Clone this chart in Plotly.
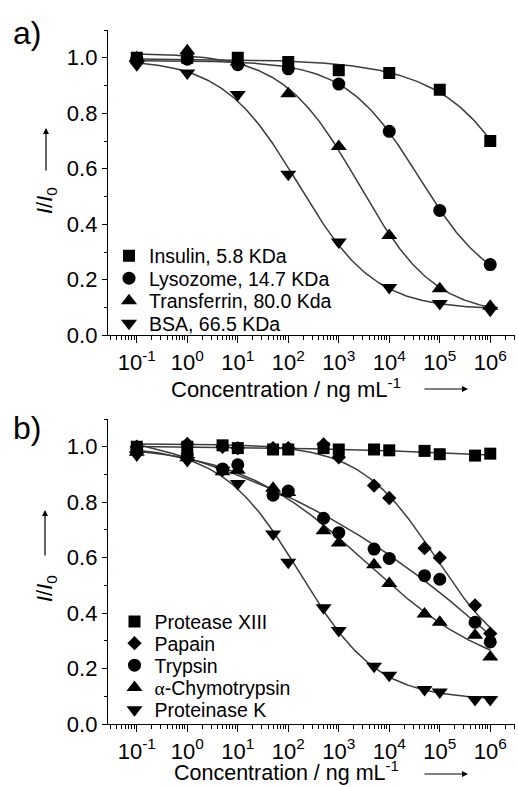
import numpy as np
import plotly.graph_objects as go

# ---------------- data ----------------
conc_a = [0.1, 1, 10, 100, 1000, 1e4, 1e5, 1e6]
insulin = [1.00, 1.00, 1.00, 0.985, 0.955, 0.945, 0.885, 0.70]
lysozome = [0.995, 0.995, 0.975, 0.96, 0.905, 0.735, 0.45, 0.255]
transferrin = [1.00, 1.025, 0.985, 0.87, 0.68, 0.36, 0.168, 0.105]
bsa = [0.975, 0.945, 0.868, 0.58, 0.336, 0.172, 0.115, 0.09]

conc_b = [0.1, 1, 5, 10, 50, 100, 500, 1000, 5000, 1e4, 5e4, 1e5, 5e5, 1e6]
protease_xiii = [1.0, 1.0, 1.005, 0.995, 0.99, 0.99, 0.995, 0.99, 0.99, 0.987, 0.985, 0.973, 0.968, 0.975]
papain = [1.0, 1.01, 1.0, 0.995, 0.995, 0.995, 1.008, 0.962, 0.86, 0.815, 0.634, 0.60, 0.428, 0.326]
trypsin = [0.99, 0.97, 0.92, 0.935, 0.825, 0.84, 0.742, 0.69, 0.631, 0.597, 0.535, 0.522, 0.367, 0.296]
chymotrypsin = [0.98, 0.96, 0.91, 0.915, 0.85, 0.835, 0.697, 0.653, 0.574, 0.507, 0.397, 0.367, 0.32, 0.242]
proteinase_k = [0.97, 0.95, 0.915, 0.867, 0.685, 0.583, 0.419, 0.337, 0.208, 0.176, 0.124, 0.115, 0.088, 0.088]

names_a = ["Insulin, 5.8 KDa", "Lysozome, 14.7 KDa", "Transferrin, 80.0 Kda", "BSA, 66.5 KDa"]
names_b = ["Protease XIII", "Papain", "Trypsin",
           "<span style=\"font-family:'Liberation Serif'\">α</span>-Chymotrypsin", "Proteinase K"]
y_ticks = [0.0, 0.2, 0.4, 0.6, 0.8, 1.0]
y_ticktext = ["0.0", "0.2", "0.4", "0.6", "0.8", "1.0"]
x_ticks = [0.1, 1, 10, 100, 1000, 1e4, 1e5, 1e6]
x_ticktext = ["10<sup>-1</sup>", "10<sup>0</sup>", "10<sup>1</sup>", "10<sup>2</sup>",
              "10<sup>3</sup>", "10<sup>4</sup>", "10<sup>5</sup>", "10<sup>6</sup>"]

# ---------------- logistic fit of the data (for the fitted curves) ----------------
def fit_logistic(xv, yv, xs):
    lx = np.log10(np.asarray(xv, float))
    y = np.asarray(yv, float)

    def search(x0g, pg):
        X0, P = np.meshgrid(x0g, pg, indexing="ij")
        X0 = X0.ravel(); P = P.ravel()
        u = 1.0 / (1.0 + 10.0 ** (P[:, None] * (lx[None, :] - X0[:, None])))
        v = 1.0 - u
        suu = (u * u).sum(1); svv = (v * v).sum(1); suv = (u * v).sum(1)
        suy = (u * y).sum(1); svy = (v * y).sum(1)
        det = suu * svv - suv ** 2
        det[np.abs(det) < 1e-12] = np.nan
        a1 = (suy * svv - svy * suv) / det
        a2 = (svy * suu - suy * suv) / det
        res = ((a1[:, None] * u + a2[:, None] * v - y) ** 2).sum(1)
        i = np.nanargmin(res)
        return X0[i], P[i], a1[i], a2[i]

    x0, p, a1, a2 = search(np.arange(-2, 9.001, 0.02), np.arange(0.05, 3.001, 0.01))
    x0, p, a1, a2 = search(np.arange(x0 - 0.03, x0 + 0.03, 0.002), np.arange(max(0.02, p - 0.02), p + 0.02, 0.001))
    lxs = np.log10(xs)
    return a2 + (a1 - a2) / (1.0 + 10.0 ** (p * (lxs - x0)))

xs_fit = np.logspace(-1, 6, 300)

W, H = 518, 787
def fx(px): return px / W
def fy(py): return 1 - py / H

FONT = "Liberation Sans, Arial, sans-serif"
LINE_COLOR = "#3c3c3c"
symbols_a = ["square", "circle", "triangle-up", "triangle-down"]
sizes_a = [12, 13, 14, 14]
symbols_b = ["square", "diamond", "circle", "triangle-up", "triangle-down"]
sizes_b = [12, 11, 13, 14, 14]

fig = go.Figure()

series_a = [insulin, lysozome, transferrin, bsa]
series_b = [protease_xiii, papain, trypsin, chymotrypsin, proteinase_k]

# fitted curves first (under markers)
for ys in series_a:
    fig.add_trace(go.Scatter(x=xs_fit, y=fit_logistic(conc_a, ys, xs_fit), mode="lines",
                             line=dict(color=LINE_COLOR, width=1.5), showlegend=False,
                             hoverinfo="skip", xaxis="x", yaxis="y"))
for ys in series_b:
    fig.add_trace(go.Scatter(x=xs_fit, y=fit_logistic(conc_b, ys, xs_fit), mode="lines",
                             line=dict(color=LINE_COLOR, width=1.5), showlegend=False,
                             hoverinfo="skip", xaxis="x2", yaxis="y2"))

legend_layouts = {}
leg_idx = 1
# panel a markers
leg_centers_a = [256, 278.5, 301, 323.5]
for i, (ys, nm) in enumerate(zip(series_a, names_a)):
    lname = "legend" if leg_idx == 1 else f"legend{leg_idx}"
    fig.add_trace(go.Scatter(x=conc_a, y=ys, mode="markers", name=nm,
                             marker=dict(symbol=symbols_a[i], size=sizes_a[i], color="black"),
                             xaxis="x", yaxis="y", legend=lname))
    legend_layouts[lname] = dict(x=fx(109), y=fy(leg_centers_a[i]), xanchor="left", yanchor="middle",
                                 bgcolor="rgba(0,0,0,0)", borderwidth=0,
                                 font=dict(family=FONT, size=19.5, color="black"))
    leg_idx += 1
# panel b markers
leg_centers_b = [621.7, 643.5, 665.5, 687.7, 710]
for i, (ys, nm) in enumerate(zip(series_b, names_b)):
    lname = f"legend{leg_idx}"
    fig.add_trace(go.Scatter(x=conc_b, y=ys, mode="markers", name=nm,
                             marker=dict(symbol=symbols_b[i], size=sizes_b[i], color="black"),
                             xaxis="x2", yaxis="y2", legend=lname))
    legend_layouts[lname] = dict(x=fx(114.5), y=fy(leg_centers_b[i]), xanchor="left", yanchor="middle",
                                 bgcolor="rgba(0,0,0,0)", borderwidth=0,
                                 font=dict(family=FONT, size=19.5, color="black"))
    leg_idx += 1

minor_x = [m * 10.0 ** k for k in range(-2, 7) for m in range(2, 10)]

def xaxis_cfg(anchor):
    return dict(type="log", range=[-1.57, 6.49], domain=[fx(108), fx(515)], anchor=anchor,
                tickmode="array", tickvals=x_ticks, ticktext=x_ticktext,
                ticks="outside", ticklen=7, tickwidth=1.3, tickcolor="black",
                showline=True, linecolor="black", linewidth=1.3, showgrid=False, zeroline=False,
                tickfont=dict(family=FONT, size=22, color="black"), automargin=False,
                minor=dict(tickmode="array", tickvals=minor_x, ticks="outside", ticklen=4,
                           tickwidth=1, tickcolor="black", showgrid=False))

def yaxis_cfg(anchor, dom):
    return dict(range=[0, 1.1], domain=dom, anchor=anchor,
                tickmode="array", tickvals=y_ticks, ticktext=y_ticktext,
                ticks="outside", ticklen=5, tickwidth=1.3, tickcolor="black",
                showline=True, linecolor="black", linewidth=1.3, showgrid=False, zeroline=False,
                tickfont=dict(family=FONT, size=22, color="black"), automargin=False,
                minor=dict(tick0=0, dtick=0.1, ticks="outside", ticklen=3, tickwidth=1,
                           tickcolor="black", showgrid=False))

annotations = []
def text_ann(txt, px, py, size, angle=0, yanchor="middle"):
    annotations.append(dict(text=txt, x=fx(px), y=fy(py), xref="paper", yref="paper",
                            xanchor="center", yanchor=yanchor, showarrow=False, textangle=angle,
                            font=dict(family=FONT, size=size, color="black")))

def arrow_ann(hx, hy, ax, ay):
    annotations.append(dict(text="", x=fx(hx), y=fy(hy), xref="paper", yref="paper",
                            ax=ax, ay=ay, showarrow=True, arrowhead=2, arrowsize=1,
                            arrowwidth=1.2, arrowcolor="black"))

text_ann("a)", 27, 33, 32)
text_ann("b)", 27, 428, 32)
text_ann("<i>I</i>/<i>I</i><sub>0</sub>", 46, 201, 22, -90)
text_ann("<i>I</i>/<i>I</i><sub>0</sub>", 46, 589, 22, -90)
arrow_ann(46, 128, 0, 44)
arrow_ann(45, 510, 0, 47)
text_ann("Concentration / ng mL<sup>-1</sup>", 286, 388, 22)
text_ann("Concentration / ng mL<sup>-1</sup>", 286, 771, 21.5)
arrow_ann(468, 389, -45, 0)
arrow_ann(468, 774, -45, 0)

fig.update_layout(
    width=W, height=H,
    margin=dict(l=0, r=0, t=0, b=0),
    paper_bgcolor="white", plot_bgcolor="white",
    font=dict(family=FONT, color="black"),
    xaxis=xaxis_cfg("y"),
    yaxis=yaxis_cfg("x", [fy(335.3), fy(30)]),
    xaxis2=xaxis_cfg("y2"),
    yaxis2=yaxis_cfg("x2", [fy(724), fy(419)]),
    annotations=annotations,
    **legend_layouts,
)

fig.write_html("out.html", config={"displayModeBar": False},
               post_script="document.body.style.margin='0px';document.body.style.overflow='hidden';")
